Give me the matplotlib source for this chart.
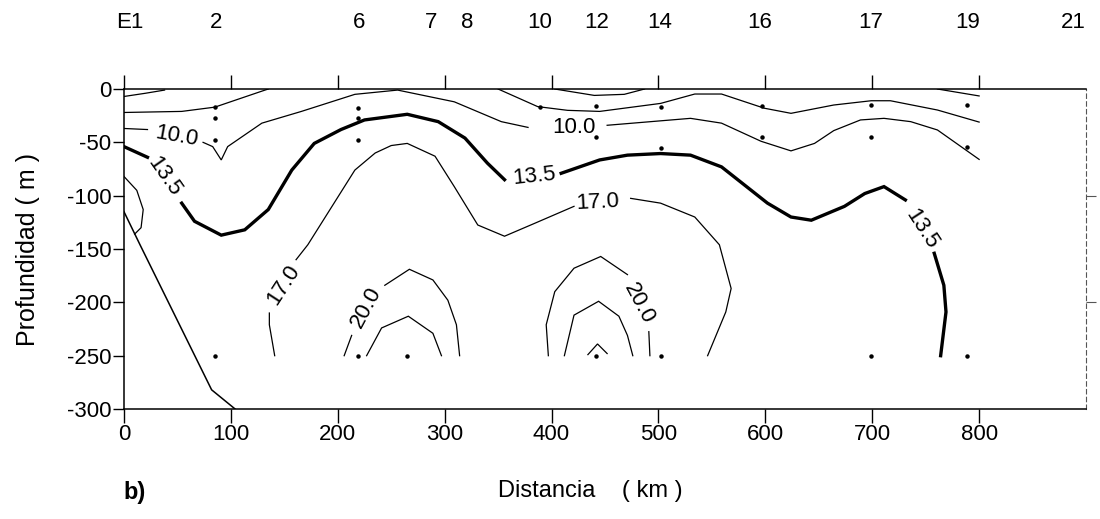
import numpy as np
import matplotlib
matplotlib.use("Agg")
import matplotlib.pyplot as plt
import matplotlib.transforms as mtransforms

plt.rcParams['font.family'] = ['Liberation Sans', 'DejaVu Sans']
plt.rcParams['axes.unicode_minus'] = False

# stations along the section (km)
stations = ['E1', '2', '6', '7', '8', '10', '12', '14', '16', '17', '19', '21']
station_km = [5, 86, 220, 287, 321, 389, 442, 501, 595, 699, 789, 888]

# isolines: lists of (km, depth) segments
iso_top = [
    ([0, 20, 38], [-7, -4, -1]),
    ([403, 440, 468, 487], [0, -6, -5, 0]),
    ([761, 800], [0, -6.5]),
]
iso_b = [
    ([0, 54, 85, 129, 135], [-22, -21, -17, -2, 0]),
    ([350, 387, 415, 445, 502, 534, 559, 599, 624, 664, 699, 717, 761, 800],
     [0, -16.5, -20, -21, -13.5, -4.7, -4.7, -18, -22.8, -15, -11, -11, -19.7, -31]),
]
iso_10 = [
    ([0, 22], [-37, -38]),
    ([74, 83, 91, 97, 129, 166, 216, 256, 309, 353, 378],
     [-50, -54, -66.5, -54, -32, -21, -5, -1, -12, -30.6, -36]),
    ([452, 530, 559, 596, 624, 646, 664, 689, 711, 736, 761, 800],
     [-34, -27.5, -32, -49, -58, -51, -39, -29, -27.5, -30.6, -38.4, -66]),
]
iso_135 = [
    ([0, 22], [-54, -64]),
    ([54, 66, 91, 113, 135, 157, 178, 203, 225, 265, 294, 319, 340, 356],
     [-107, -124, -137, -132, -113, -76, -51, -38, -29, -23.7, -30.6, -46, -69.5, -85]),
    ([409, 445, 471, 502, 530, 559, 602, 624, 643, 674, 693, 711, 731],
     [-79, -66.5, -62, -60.5, -62, -73, -107, -120, -123, -110, -98, -91.5, -104]),
    ([758, 767, 769, 764], [-154, -184, -209, -250]),
]
iso_17 = [
    ([136, 136, 141], [-210, -221, -250]),
    ([161, 172, 216, 235, 250, 265, 291, 309, 331, 356, 384, 421],
     [-160, -146, -76, -60, -53, -51, -63, -91.5, -127.5, -138, -126, -110]),
    ([474, 502, 534, 557, 568, 563, 546], [-102.5, -107, -120, -146, -187, -209, -250]),
]
iso_20 = [
    ([206, 213], [-250, -231]),
    ([244, 267, 289, 303, 311, 314], [-184, -169, -179, -198, -221, -250]),
    ([397, 395, 403, 421, 446, 471], [-250, -221, -190, -168, -157, -174]),
    ([491, 492], [-227.5, -250]),
]
iso_inner = [
    ([227, 241, 266, 289, 297], [-250, -224, -213, -229, -250]),
    ([412, 421, 444, 463, 471, 476], [-250, -212, -199, -213, -231, -250]),
    ([434, 443, 452], [-249, -239, -248]),
]
coast_arc = ([0, 12, 18, 16, 10], [-82, -95, -113, -130, -136])
bottom = ([0, 15, 82, 104], [-115, -146, -282, -300])

# sampling points
samp_x = [85, 85, 85, 85, 219, 219, 219, 219, 265, 389, 442, 442, 442,
          502, 502, 502, 597, 597, 699, 699, 699, 789, 789, 789]
samp_z = [-17, -27, -48, -250, -18, -27, -48, -250, -250, -16.6, -16, -45, -250,
          -16.6, -55.6, -250, -16, -45, -15, -45, -250, -15, -54.6, -250]

# contour labels: text, km, depth, rotation
labels = [
    ('10.0', 49, -44, -10),
    ('13.5', 38, -82, -55),
    ('10.0', 421, -36.5, 0),
    ('13.5', 384, -82, 6),
    ('17.0', 443, -106, 3),
    ('17.0', 149, -184, 57),
    ('20.0', 227, -205, 62),
    ('20.0', 482, -201, -62),
    ('13.5', 746, -131, -57),
]

fig = plt.figure(figsize=(11, 5.19), dpi=100)
ax = fig.add_axes([0.1127, 0.2119, 0.8746, 0.6166])

for group, lw in [(iso_top, 0.9), (iso_b, 0.9), (iso_10, 0.9), (iso_135, 2.4),
                  (iso_17, 0.9), (iso_20, 0.9), (iso_inner, 0.9)]:
    for xs, zs in group:
        ax.plot(xs, zs, color='black', lw=lw, solid_joinstyle='miter')
ax.plot(coast_arc[0], coast_arc[1], color='black', lw=0.9)
ax.plot(bottom[0], bottom[1], color='black', lw=1.1)
ax.plot(samp_x, samp_z, 'o', color='black', ms=2.2, ls='none')

for txt, xk, zk, rot in labels:
    ax.text(xk, zk, txt, fontsize=16, rotation=rot, ha='center', va='center',
            rotation_mode='anchor')

ax.set_xlim(0, 900)
ax.set_ylim(-300, 0)
ax.set_xticks(np.arange(0, 801, 100))
ax.set_yticks(np.arange(-300, 1, 50))
ax.tick_params(axis='x', which='both', top=True, direction='out', length=10,
               width=1, labelsize=16, pad=1)
ax.tick_params(axis='y', direction='out', length=8, width=1, labelsize=16, pad=1)
for s in ['left', 'top', 'bottom']:
    ax.spines[s].set_linewidth(1.1)
ax.spines['right'].set_linestyle((0, (4, 3)))
ax.spines['right'].set_linewidth(0.8)
ax.spines['right'].set_color('#555555')

sec = ax.secondary_yaxis('right')
sec.set_yticks([-100, -200])
sec.set_yticklabels([])
sec.tick_params(direction='out', length=7, width=0.8, color='#555555')
sec.spines['right'].set_visible(False)

trans = mtransforms.blended_transform_factory(ax.transData, ax.transAxes)
for name, xk in zip(stations, station_km):
    ax.text(xk, 1.209, name, transform=trans, fontsize=16, ha='center', va='center')

fig.text(590 / 1100, 1 - 491 / 519, 'Distancia    ( km )', fontsize=17, ha='center', va='center')
fig.text(28 / 1100, 0.52, 'Profundidad ( m )', fontsize=18, rotation=90,
         ha='center', va='center')
fig.text(135 / 1100, 1 - 492 / 519, 'b)', fontsize=17, fontweight='bold',
         ha='center', va='center')

fig.savefig('out.png', dpi=100)
